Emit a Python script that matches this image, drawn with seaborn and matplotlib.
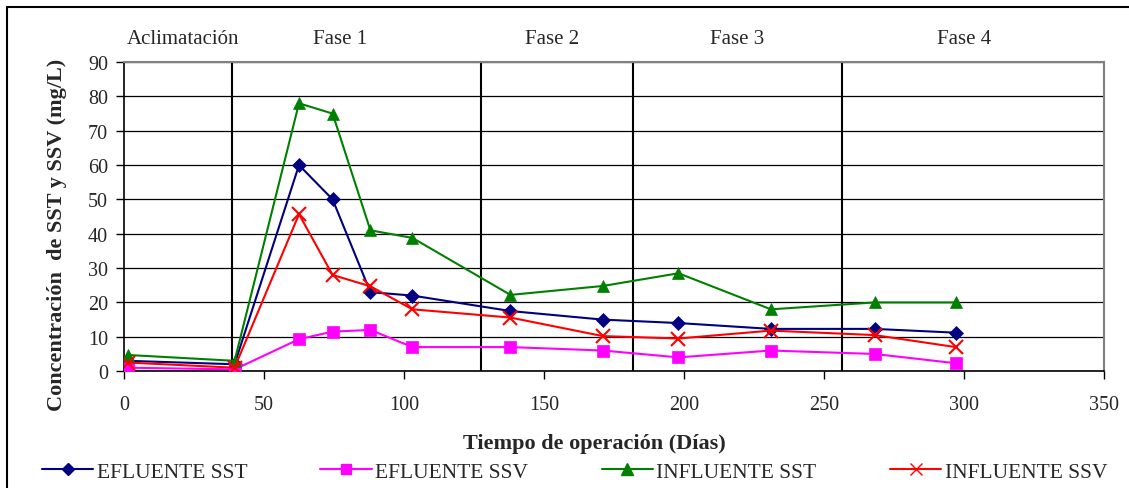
import matplotlib
matplotlib.use('Agg')
import matplotlib.pyplot as plt
import pandas as pd
import seaborn as sns
from matplotlib.lines import Line2D

# Data
dias = [1.5, 39.5, 62.5, 74.5, 88, 103, 138, 171, 198, 231, 268, 297]
efluente_sst = [3, 2, 60, 50, 23, 22, 17.5, 15, 14, 12.3, 12.3, 11.2]
efluente_ssv = [1, 0.5, 9.3, 11.5, 12, 7, 7, 6, 4, 6, 5, 2.3]
influente_sst = [4.7, 3, 78, 75, 41, 38.8, 22.2, 24.8, 28.5, 18, 20, 20]
influente_ssv = [2.5, 1, 45.7, 28, 24.7, 18, 15.6, 10.2, 9.5, 11.8, 10.5, 7]

fases = ['Aclimatación', 'Fase 1', 'Fase 2', 'Fase 3', 'Fase 4']
fase_centros = [21, 77, 153, 219, 300]
fase_limites = [38.6, 127.5, 181.8, 256.4]

series = {
    'EFLUENTE SST': efluente_sst,
    'EFLUENTE SSV': efluente_ssv,
    'INFLUENTE SST': influente_sst,
    'INFLUENTE SSV': influente_ssv,
}
colores = {'EFLUENTE SST': '#000080', 'EFLUENTE SSV': '#FF00FF',
           'INFLUENTE SST': '#008000', 'INFLUENTE SSV': '#FF0000'}
marcadores = {'EFLUENTE SST': 'D', 'EFLUENTE SSV': 's',
              'INFLUENTE SST': '^', 'INFLUENTE SSV': 'x'}
tamanos = {'EFLUENTE SST': 7, 'EFLUENTE SSV': 8, 'INFLUENTE SST': 9, 'INFLUENTE SSV': 10}

# long form table for seaborn
df = pd.concat([pd.DataFrame({'dia': dias, 'valor': v, 'serie': k}) for k, v in series.items()])

sns.set_style('white')
plt.rcParams['font.family'] = ['Liberation Serif', 'DejaVu Serif']

fig = plt.figure(figsize=(11.29, 4.89), dpi=100)
ax = fig.add_axes([0.1098, 0.239, 0.978 - 0.1098, 0.871 - 0.239])

# Horizontal grid
ax.set_axisbelow(True)
ax.yaxis.grid(True, color='black', linewidth=0.9)
ax.xaxis.grid(False)

for nombre in series:
    d = df[df['serie'] == nombre]
    sns.lineplot(data=d, x='dia', y='valor', ax=ax, color=colores[nombre],
                 marker=marcadores[nombre], markersize=tamanos[nombre],
                 markeredgecolor=colores[nombre], markeredgewidth=1.5 if nombre == 'INFLUENTE SSV' else 0.5,
                 linewidth=1.5, label=nombre, legend=False, zorder=3)

# phase separators
for xl in fase_limites:
    ax.axvline(xl, color='black', linewidth=1.5, zorder=2)

# phase labels above the plot area
for nombre, xc in zip(fases, fase_centros):
    ax.text(xc, 1.075, nombre, transform=ax.get_xaxis_transform(), ha='center', va='center',
            fontsize=15)

ax.set_xlim(0, 350)
ax.set_ylim(0, 90)
ax.set_xticks(range(0, 351, 50))
ax.set_yticks(range(0, 91, 10))
ax.tick_params(axis='both', labelsize=14.5, length=5.5, width=1, direction='out', color='black',
               bottom=True, left=True)
ax.tick_params(axis='x', pad=12)
ax.tick_params(axis='y', pad=6)
ax.set_xlabel('Tiempo de operación (Días)', fontsize=16, fontweight='bold')
ax.set_ylabel('Concentración  de SST y SSV (mg/L)', fontsize=16, fontweight='bold')
ax.xaxis.set_label_coords(0.48, -0.2)
ax.yaxis.set_label_coords(-0.058, 0.443)

for s in ['left', 'bottom']:
    ax.spines[s].set_color('black')
    ax.spines[s].set_linewidth(1.2)
for s in ['top', 'right']:
    ax.spines[s].set_color('#808080')
    ax.spines[s].set_linewidth(1.5)

# legend along the bottom
handles = [Line2D([0], [0], color=colores[n], marker=marcadores[n], markersize=tamanos[n] - 1,
                  markeredgecolor=colores[n], linewidth=1.5) for n in series]
fig.legend(handles, list(series.keys()), loc='center left', bbox_to_anchor=(0.037, 0.033), ncol=4,
           frameon=False, fontsize=15.5, handlelength=2.4, columnspacing=3.4, handletextpad=0.15,
           borderpad=0, borderaxespad=0)

# outer chart frame
frame = plt.Rectangle((7 / 1129, -0.2), 1.0, 1.2 - 8 / 489, transform=fig.transFigure, fill=False,
                      edgecolor='black', linewidth=1.5)
fig.patches.append(frame)

fig.savefig('out.png', dpi=100)
